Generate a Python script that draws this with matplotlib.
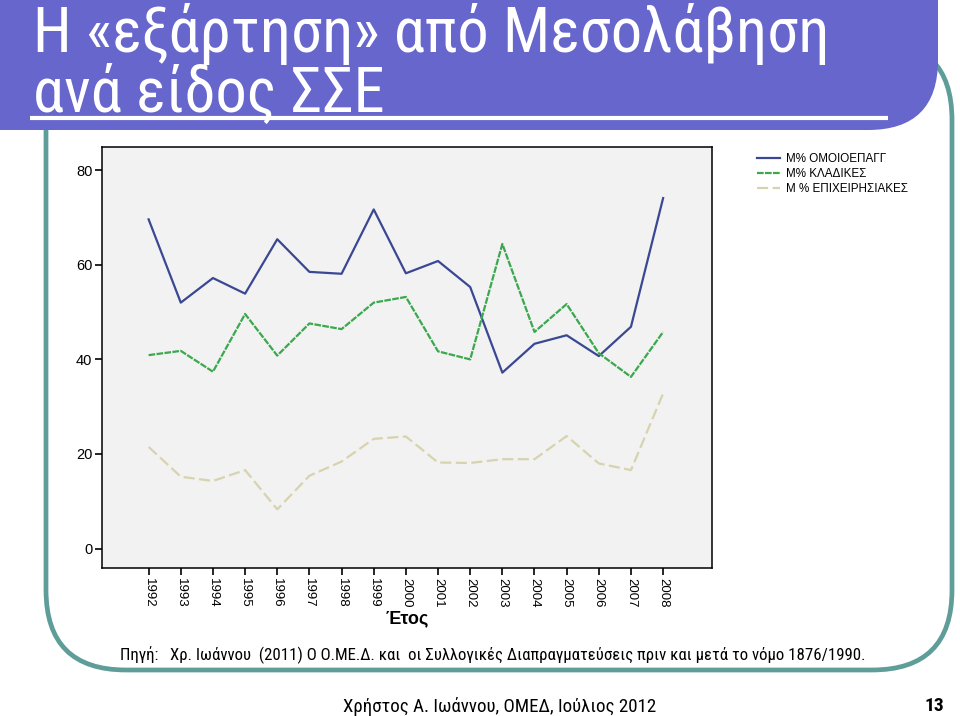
import matplotlib
matplotlib.use("Agg")
import matplotlib.pyplot as plt
from matplotlib.patches import FancyBboxPatch
from matplotlib import font_manager
from matplotlib.ft2font import FT2Font

years = [1992, 1993, 1994, 1995, 1996, 1997, 1998, 1999, 2000,
         2001, 2002, 2003, 2004, 2005, 2006, 2007, 2008]
omoioepagg = [69.6, 52.0, 57.2, 53.9, 65.4, 58.5, 58.1, 71.7, 58.2,
              60.8, 55.3, 37.2, 43.3, 45.1, 40.7, 46.9, 74.1]
kladikes = [40.9, 41.8, 37.4, 49.6, 40.8, 47.6, 46.4, 52.0, 53.2,
            41.7, 40.0, 64.4, 45.8, 51.7, 41.3, 36.3, 45.8]
epixeirisiakes = [21.5, 15.2, 14.3, 16.6, 8.3, 15.4, 18.4, 23.2, 23.7,
                  18.2, 18.1, 18.9, 18.9, 23.8, 18.0, 16.6, 32.8]
series_labels = ["M% ΟΜΟΙΟΕΠΑΓΓ", "M% ΚΛΑΔΙΚΕΣ", "M % ΕΠΙΧΕΙΡΗΣΙΑΚΕΣ"]
yticks = [0, 20, 40, 60, 80]

title_lines = ["Η «εξάρτηση» από Μεσολάβηση", "ανά είδος ΣΣΕ"]
xlabel = "Έτος"
source = "Πηγή:   Χρ. Ιωάννου  (2011) Ο Ο.ΜΕ.Δ. και  οι Συλλογικές Διαπραγματεύσεις πριν και μετά το νόμο 1876/1990."
footer = "Χρήστος Α. Ιωάννου, ΟΜΕΔ, Ιούλιος 2012"
page = "13"


def has_greek(path):
    try:
        cm = FT2Font(path).get_charmap()
        return all(ord(c) in cm for c in "ΗεξάρτησηΣΔΩωύ«»")
    except Exception:
        return False


def pick_narrow():
    cands = ["Arial Narrow", "Liberation Sans Narrow", "Roboto Condensed",
             "Open Sans Condensed", "Fira Sans Condensed", "Noto Sans Condensed",
             "Encode Sans Condensed", "Archivo Narrow", "Asap Condensed"]
    fl = font_manager.fontManager.ttflist
    for c in cands:
        for f in fl:
            if f.name == c and f.style == "normal" and has_greek(f.fname):
                return c
    return "Liberation Sans"


narrow = pick_narrow()
sans = "Liberation Sans"

fig = plt.figure(figsize=(9.6, 7.16), dpi=100, facecolor="white")

bg = fig.add_axes([0, 0, 1, 1], zorder=0)
bg.set_xlim(0, 960)
bg.set_ylim(716, 0)
bg.axis("off")

frame = FancyBboxPatch((46, 40), 906, 630,
                       boxstyle="round,pad=0,rounding_size=80",
                       facecolor="none", edgecolor="#5F9D98", linewidth=3.4, zorder=1)
bg.add_patch(frame)
banner = FancyBboxPatch((-80, -80), 1018, 210,
                        boxstyle="round,pad=0,rounding_size=70",
                        facecolor="#6666CC", edgecolor="none", zorder=2)
bg.add_patch(banner)
bg.text(33, 52, title_lines[0], color="white", fontsize=45, va="baseline", ha="left",
        zorder=3, family=narrow)
bg.text(33, 112, title_lines[1], color="white", fontsize=45, va="baseline", ha="left",
        zorder=3, family=narrow)
bg.plot([30, 888], [118, 118], color="white", lw=3, zorder=3, solid_capstyle="butt")

bg.text(120, 655, source, fontsize=12.1, va="center", ha="left", color="black", family=narrow)
bg.text(500, 706, footer, fontsize=13.6, va="center", ha="center", color="black", family=narrow)
bg.text(944, 706, page, fontsize=14, va="center", ha="right", color="black",
        fontweight="bold", family=narrow)

ax = fig.add_axes([102 / 960, 1 - 568 / 716, 610 / 960, 421 / 716], zorder=1)
ax.set_facecolor("#F2F2F2")
ax.plot(years, omoioepagg, color="#3A4894", lw=1.6, label=series_labels[0])
ax.plot(years, kladikes, color="#3BA84E", lw=1.6, dashes=(3, 0.6), label=series_labels[1])
ax.plot(years, epixeirisiakes, color="#D7D3AE", lw=1.6, dashes=(5, 2), label=series_labels[2])

ax.set_xlim(1990.55, 2009.52)
ax.set_ylim(-4.1, 84.9)
ax.set_xticks(years)
ax.set_xticklabels([str(y) for y in years], rotation=270, fontsize=9.5, family=sans)
ax.set_yticks(yticks)
ax.set_yticklabels([str(v) for v in yticks], fontsize=10.5, family=sans)
ax.tick_params(axis="both", direction="out", length=5, width=1.2, color="black", pad=2)
for s in ax.spines.values():
    s.set_linewidth(1.1)
    s.set_color("black")
ax.set_xlabel(xlabel, fontsize=13, fontweight="bold", family=sans, labelpad=2)

leg = ax.legend(loc="upper left", bbox_to_anchor=(1.066, 0.996), frameon=False,
                prop={"family": sans, "size": 8.4}, handlelength=2.0,
                handletextpad=0.45, labelspacing=0.25, borderaxespad=0)

fig.savefig("out.png", dpi=100, facecolor="white")
